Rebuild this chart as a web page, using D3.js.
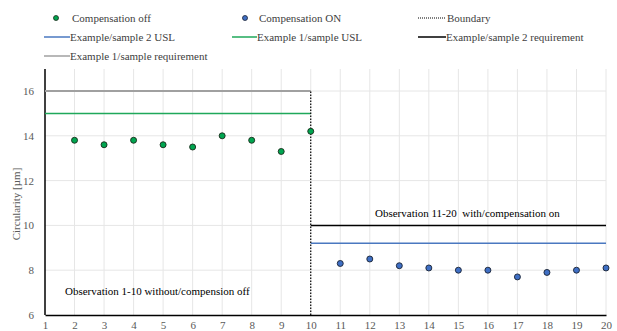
<!DOCTYPE html>
<html><head><meta charset="utf-8">
<script src="https://cdn.jsdelivr.net/npm/d3@7"></script>
</head><body style="margin:0;background:#fff"><svg id="c" width="617" height="331"></svg>
<script>
const offX = [2,3,4,5,6,7,8,9,10];
const offY = [13.8,13.6,13.8,13.6,13.5,14.0,13.8,13.3,14.2];
const onX = [11,12,13,14,15,16,17,18,19,20];
const onY = [8.3,8.5,8.2,8.1,8.0,8.0,7.7,7.9,8.0,8.1];
const xTicks = d3.range(1,21);
const yTicks = [6,8,10,12,14,16];
const ex1Req = [[1,16],[10,16]];
const ex1USL = [[1,15],[10,15]];
const ex2Req = [[10,10],[20,10]];
const ex2USL = [[10,9.2],[20,9.2]];
const boundary = [[10,6],[10,16]];

const FONT = "'Liberation Serif'";
const svg = d3.select("#c");
const x = d3.scaleLinear().domain([1,20]).range([45,606]);
const y = d3.scaleLinear().domain([6,16]).range([315,91]);
const plotTop = 69;

// gridlines
svg.append("g").selectAll("line").data(xTicks.slice(1)).join("line")
  .attr("x1",d=>x(d)).attr("x2",d=>x(d)).attr("y1",plotTop).attr("y2",y(6))
  .attr("stroke","#e6e6e6").attr("stroke-width",1);
svg.append("g").selectAll("line").data(yTicks.slice(1)).join("line")
  .attr("x1",x(1)).attr("x2",x(20)).attr("y1",d=>y(d)).attr("y2",d=>y(d))
  .attr("stroke","#e6e6e6").attr("stroke-width",1);

// axes
const xa = svg.append("g").attr("transform",`translate(0,${y(6)})`)
  .call(d3.axisBottom(x).tickValues(xTicks).tickSize(0).tickPadding(6).tickFormat(d3.format("d")));
xa.select(".domain").attr("stroke","#000").attr("stroke-width",1.5);
xa.attr("font-family",null).attr("font-size",null);
const ya = svg.append("g").attr("transform",`translate(${x(1)},0)`)
  .call(d3.axisLeft(y).tickValues(yTicks).tickSize(0).tickPadding(11));
ya.select(".domain").remove();
ya.attr("font-family",null).attr("font-size",null);
svg.append("line").attr("x1",x(1)).attr("x2",x(1)).attr("y1",plotTop).attr("y2",y(6))
  .attr("stroke","#000").attr("stroke-width",1.5);

svg.append("text").attr("transform",`translate(20,204) rotate(-90)`)
  .attr("text-anchor","middle").attr("fill","#595959").text("Circularity [µm]");

const line = d3.line().x(d=>x(d[0])).y(d=>y(d[1]));
svg.append("path").attr("d",line(ex1Req)).attr("stroke","#a0a0a0").attr("stroke-width",2).attr("fill","none");
svg.append("path").attr("d",line(ex1USL)).attr("stroke","#1fa85a").attr("stroke-width",1.5).attr("fill","none");
svg.append("path").attr("d",line(ex2Req)).attr("stroke","#000").attr("stroke-width",1.5).attr("fill","none");
svg.append("path").attr("d",line(ex2USL)).attr("stroke","#4a78c0").attr("stroke-width",1.5).attr("fill","none");
svg.append("path").attr("d",line(boundary)).attr("stroke","#000").attr("stroke-width",1.2).attr("stroke-dasharray","1.5,1.5").attr("fill","none");

svg.append("g").selectAll("circle").data(offX.map((d,i)=>[d,offY[i]])).join("circle")
  .attr("cx",d=>x(d[0])).attr("cy",d=>y(d[1])).attr("r",3)
  .attr("fill","#00a550").attr("stroke","#1a2a1a").attr("stroke-width",0.9);
svg.append("g").selectAll("circle").data(onX.map((d,i)=>[d,onY[i]])).join("circle")
  .attr("cx",d=>x(d[0])).attr("cy",d=>y(d[1])).attr("r",3)
  .attr("fill","#3f6fc4").attr("stroke","#1a2233").attr("stroke-width",0.9);

svg.append("text").attr("x",65).attr("y",295).attr("fill","#000").text("Observation 1-10 without/compension off");
svg.append("text").attr("x",375).attr("y",217).style("white-space","pre").attr("fill","#000").text("Observation 11-20  with/compensation on");

// legend
const lg = svg.append("g");
const lt = (tx,ty,s)=>lg.append("text").attr("x",tx).attr("y",ty).attr("fill","#404040").text(s);
lg.append("circle").attr("cx",56).attr("cy",18).attr("r",2.5).attr("fill","#00a550").attr("stroke","#1a2a1a").attr("stroke-width",0.8);
lt(72,22,"Compensation off");
lg.append("circle").attr("cx",245).attr("cy",18).attr("r",2.5).attr("fill","#3f6fc4").attr("stroke","#1a2233").attr("stroke-width",0.8);
lt(259,22,"Compensation ON");
lg.append("line").attr("x1",418).attr("x2",446).attr("y1",18).attr("y2",18).attr("stroke","#000").attr("stroke-width",1).attr("stroke-dasharray","1,1");
lt(447,22,"Boundary");
lg.append("line").attr("x1",44).attr("x2",70).attr("y1",37).attr("y2",37).attr("stroke","#4a78c0").attr("stroke-width",1.5);
lt(70,41,"Example/sample 2 USL");
lg.append("line").attr("x1",232).attr("x2",257).attr("y1",37).attr("y2",37).attr("stroke","#1fa85a").attr("stroke-width",1.5);
lt(257,41,"Example 1/sample USL");
lg.append("line").attr("x1",418).attr("x2",446).attr("y1",37).attr("y2",37).attr("stroke","#000").attr("stroke-width",1.5);
lt(446,41,"Example/sample 2 requirement");
lg.append("line").attr("x1",44).attr("x2",70).attr("y1",56).attr("y2",56).attr("stroke","#a0a0a0").attr("stroke-width",1.5);
lt(70,60,"Example 1/sample requirement");

svg.selectAll("text").style("font-family",FONT).style("font-size","11px");
svg.selectAll(".tick text").attr("fill","#595959");
</script></body></html>
